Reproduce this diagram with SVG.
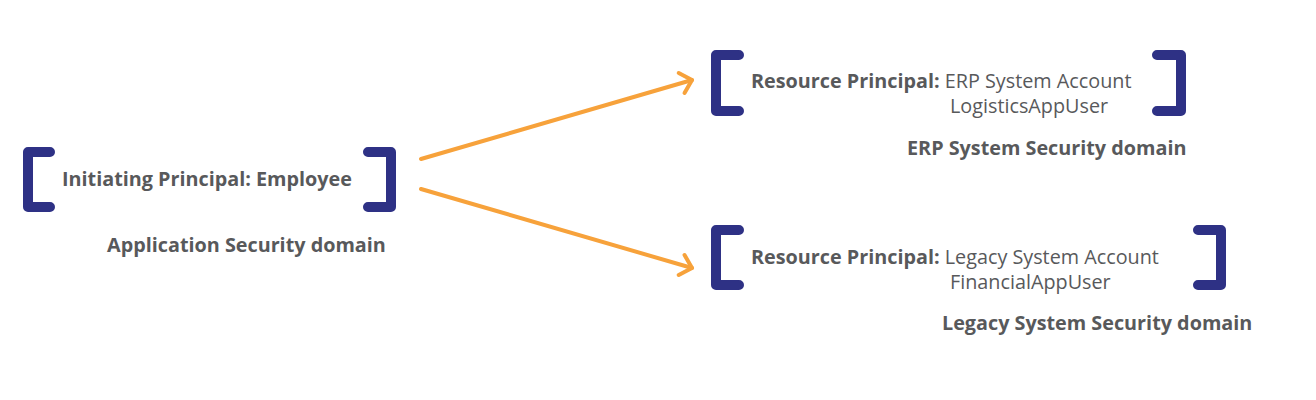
<svg xmlns="http://www.w3.org/2000/svg" width="1316" height="400" viewBox="0 0 1316 400">
<style>
.br{fill:none;stroke:#2E3185;stroke-width:10;stroke-linecap:round;stroke-linejoin:round}
.t{font-family:"Open Sans","Liberation Sans",sans-serif;font-size:19.8px;fill:#58595B}
.b{font-weight:bold}
.c{fill:none;stroke:#F7A23B;stroke-width:4;stroke-linecap:round}
</style>
<defs>
<marker id="ah" markerUnits="userSpaceOnUse" viewBox="-14 -14 18 28" refX="0" refY="0" markerWidth="18" markerHeight="28" orient="auto">
<path d="M -10.8 -10.4 L 0 0 L -10.8 10.4" fill="none" stroke="#F7A23B" stroke-width="4" stroke-linecap="round" stroke-linejoin="round"/>
</marker>
</defs>
<rect width="1316" height="400" fill="#ffffff"/>
<g id="connectors">
<line class="c" x1="421" y1="159" x2="692" y2="80" marker-end="url(#ah)"/>
<line class="c" x1="421" y1="189" x2="692" y2="268" marker-end="url(#ah)"/>
</g>
<g id="initiating">
<path class="br" d="M50 152 H28 V207 H50"/>
<path class="br" d="M368 152 H391 V207 H368"/>
<text class="t b" x="62" y="186">Initiating Principal: Employee</text>
<text class="t b" x="107" y="252">Application Security domain</text>
</g>
<g id="erp">
<path class="br" d="M739 55 H716 V111 H739"/>
<path class="br" d="M1157 55 H1181 V111 H1157"/>
<text class="t"><tspan x="751" y="88" class="b">Resource Principal:</tspan><tspan> ERP System Account</tspan><tspan x="950" y="113">LogisticsAppUser</tspan></text>
<text class="t b" x="907" y="155">ERP System Security domain</text>
</g>
<g id="legacy">
<path class="br" d="M739 230 H716 V285 H739"/>
<path class="br" d="M1198 230 H1221 V285 H1198"/>
<text class="t"><tspan x="751" y="264" class="b">Resource Principal:</tspan><tspan> Legacy System Account</tspan><tspan x="950" y="289">FinancialAppUser</tspan></text>
<text class="t b" x="942" y="330">Legacy System Security domain</text>
</g>
</svg>
